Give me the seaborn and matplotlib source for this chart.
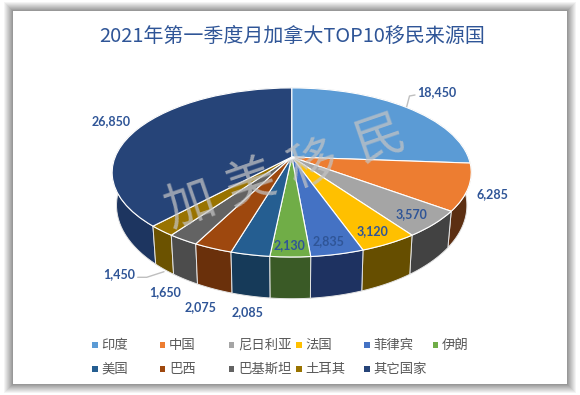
import numpy as np
import matplotlib
matplotlib.use("Agg")
import matplotlib.pyplot as plt
from matplotlib.patches import Rectangle
from matplotlib.transforms import Transform
import seaborn as sns

title = "2021年第一季度月加拿大TOP10移民来源国"
categories = ["印度", "中国", "尼日利亚", "法国", "菲律宾", "伊朗",
              "美国", "巴西", "巴基斯坦", "土耳其", "其它国家"]
values = [18450, 6285, 3570, 3120, 2835, 2130, 2085, 2075, 1650, 1450, 26850]
top_colors = ["#5B9BD5", "#ED7D31", "#A5A5A5", "#FFC000", "#4472C4", "#70AD47",
              "#255E91", "#9E480E", "#636363", "#997300", "#264478"]
wall_colors = ["#2F5B85", "#5C2F12", "#424242", "#664E00", "#1E3261", "#3A5A26",
               "#163A59", "#6A300B", "#4C4C4C", "#6B5200", "#1D3560"]
label_xy = [(436.7, 91.7), (492, 194), (411, 214.3), (372.3, 231.3), (328.3, 241),
            (289.3, 244.7), (247.7, 312.3), (201, 306.7), (165, 291.7), (119, 274), (111, 120.7)]
watermark = [("加", 190, 205), ("美", 251, 183), ("移", 313, 166), ("民", 380, 139)]

sns.set_theme(style="white")
plt.rcParams["font.family"] = ["Noto Sans CJK SC", "DejaVu Sans"]

W, H = 580, 395
fig = plt.figure(figsize=(W / 100, H / 100), dpi=100, facecolor="white")
ax = fig.add_axes([0, 0, 1, 1])


class Persp(Transform):
    """Perspective view of a unit pie disc, output in chart pixels."""
    input_dims = output_dims = 2

    def __init__(self, cx, cy, a, b, k):
        super().__init__()
        self.p = (cx, cy, a, b, k)

    def transform_non_affine(self, xy):
        xy = np.asarray(xy, float)
        cx, cy, a, b, k = self.p
        w = 1 + k * xy[:, 1]
        return np.column_stack([cx + b * xy[:, 0] / w, cy - a * xy[:, 1] / w])


top_plane = Persp(291.7, 157, 81.7, 176.5, 0.183)
bottom_plane = Persp(291.7, 187.6, 90, 172, 0.19)

# pie top, drawn by the library and seen through the perspective transform
wedges, _ = ax.pie(values, colors=top_colors, startangle=90, counterclock=False,
                   wedgeprops=dict(edgecolor="white", linewidth=0.8))
ax.set_aspect("auto")
ax.set_xlim(0, W)
ax.set_ylim(H, 0)
for wd in wedges:
    wd.set_transform(top_plane + ax.transData)
    wd.set_zorder(3)

# side walls, far side first
fracs = np.cumsum([0] + values) / sum(values) * 2 * np.pi
order = sorted(range(len(values)), key=lambda i: np.cos((fracs[i] + fracs[i + 1]) / 2), reverse=True)
for i in order:
    t = np.linspace(fracs[i], fracs[i + 1], 60)
    disc = np.column_stack([np.sin(t), np.cos(t)])
    up = top_plane.transform_non_affine(disc)
    lo = bottom_plane.transform_non_affine(disc)
    ring = np.vstack([up, lo[::-1]])
    ax.fill(ring[:, 0], ring[:, 1], facecolor=wall_colors[i], edgecolor="#E4E4E4",
            linewidth=0.7, zorder=2)

# chart card with soft shadow
for d in range(10, 0, -1):
    g = 0.55 + 0.045 * d
    ax.add_patch(Rectangle((13 - d, 11 - d), 554 + 2 * d, 373 + 2 * d, facecolor=str(min(g, 1)),
                           edgecolor="none", zorder=0))
ax.add_patch(Rectangle((13, 11), 554, 373, facecolor="white", edgecolor="none", zorder=0.5))

ax.text(292.5, 36, title, ha="center", va="center", fontsize=14.4, color="#2F5597", zorder=6)

# data labels
for v, (x, y) in zip(values, label_xy):
    ax.text(x, y, f"{v:,}", ha="center", va="center", fontsize=9, fontweight="bold",
            family=["Lato", "DejaVu Sans"], color="#2F5597", zorder=7)

# leader lines
ax.plot([406.7, 409.5, 415], [106.7, 96, 95], color="#BFBFBF", lw=1, zorder=4)
ax.plot([137.7, 146.7, 164], [277.3, 277.3, 271.7], color="#BFBFBF", lw=1, zorder=4)

# watermark
for ch, x, y in watermark:
    ax.text(x, y, ch, ha="center", va="center", fontsize=36, rotation=19,
            color="#C4C4C4", alpha=0.72, zorder=5)

# legend, two rows of six columns
col_x = [95, 162.3, 231.3, 299, 367, 435.3]
row_y = [345, 369]
leg_x = [col_x[i % 6] for i in range(len(categories))]
leg_y = [row_y[i // 6] for i in range(len(categories))]
sns.scatterplot(x=leg_x, y=leg_y, hue=categories, palette=top_colors, marker="s", s=14,
                linewidth=0, legend=False, ax=ax, zorder=6)
for x, y, name in zip(leg_x, leg_y, categories):
    ax.text(x + 6.5, y, name, ha="left", va="center", fontsize=9.6, color="#595959", zorder=6)

ax.set_xlim(0, W)
ax.set_ylim(H, 0)
ax.set_axis_off()
fig.savefig("out.png", dpi=100, facecolor="white")
